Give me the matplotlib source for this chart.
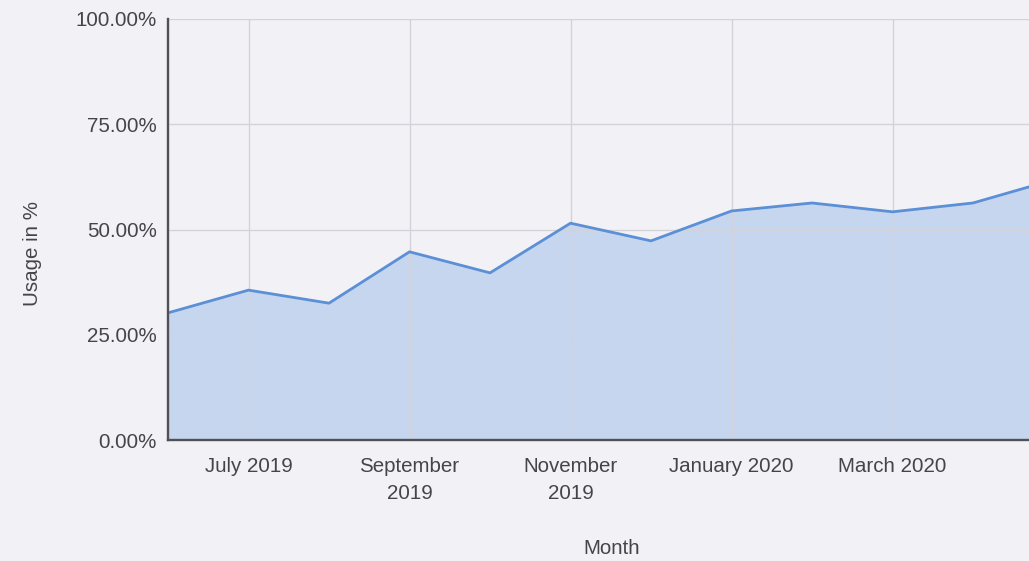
import matplotlib
matplotlib.use("Agg")
import matplotlib.pyplot as plt
import numpy as np

months = ["June 2019", "July 2019", "August 2019", "September 2019", "October 2019",
          "November 2019", "December 2019", "January 2020", "February 2020",
          "March 2020", "April 2020", "May 2020"]
usage = [30.2, 35.6, 32.5, 44.7, 39.7, 51.5, 47.3, 54.4, 56.3, 54.2, 56.3, 61.8]
tick_idx = [1, 3, 5, 7, 9]
tick_labels = ["July 2019", "September\n2019", "November\n2019", "January 2020", "March 2020"]
y_ticks = [0, 25, 50, 75, 100]

plt.rcParams['font.family'] = ['Liberation Sans', 'DejaVu Sans']
bg = "#f2f2f6"
txt = "#454548"
fs = 14.8

fig = plt.figure(figsize=(10.29, 5.61), dpi=100, facecolor=bg)
W, H = 1029, 561
left, right, top, bottom = 168, 1053.5, 19, 440
ax = fig.add_axes([left / W, 1 - bottom / H, (right - left) / W, (bottom - top) / H])
ax.set_facecolor(bg)

x = np.arange(len(months))
ax.fill_between(x, 0, usage, color="#c7d6ef", zorder=1)
ax.plot(x, usage, color="#5b8fd6", lw=2.0, zorder=3, solid_joinstyle="round")

ax.set_xlim(0, len(months) - 1)
ax.set_ylim(0, 100)
ax.set_yticks(y_ticks)
ax.set_yticklabels([f"{v:.2f}%" for v in y_ticks])
ax.set_xticks(tick_idx)
ax.set_xticklabels(tick_labels, linespacing=1.55, multialignment="center")

ax.grid(True, color="#d2d2d8", lw=1.0, zorder=2)
ax.set_axisbelow(False)
for g in ax.get_xgridlines() + ax.get_ygridlines():
    g.set_zorder(2)

ax.tick_params(axis="both", length=0, labelsize=fs, labelcolor=txt)
ax.tick_params(axis="y", pad=8)
ax.tick_params(axis="x", pad=12)

for s in ["top", "right"]:
    ax.spines[s].set_visible(False)
for s in ["left", "bottom"]:
    ax.spines[s].set_color("#505055")
    ax.spines[s].set_linewidth(1.7)
    ax.spines[s].set_zorder(4)

ax.set_ylabel("Usage in %", fontsize=fs, color=txt)
ax.set_xlabel("Month", fontsize=fs, color=txt)
ax.yaxis.set_label_coords((32 - left) / (right - left), (bottom - 253) / (bottom - top))
ax.xaxis.set_label_coords((612 - left) / (right - left), (bottom - 549) / (bottom - top))
ax.yaxis.label.set_va("center")
ax.xaxis.label.set_va("center")

fig.savefig("out.png", dpi=100, facecolor=bg)
